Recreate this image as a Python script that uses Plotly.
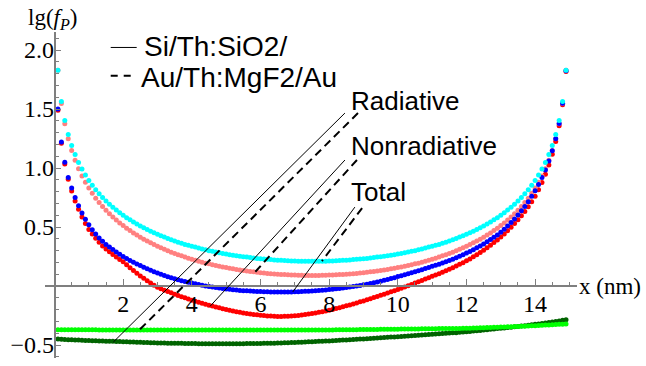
import plotly.graph_objects as go

# positions (nm)
x_nm = [round(0.1 * i, 1) for i in range(1, 150)]

# lg(f_P) series
cyan_vals = [
    1.829, 1.565, 1.403, 1.284, 1.191, 1.114, 1.048, 0.991, 0.940, 0.895,
    0.854, 0.816, 0.782, 0.750, 0.721, 0.694, 0.668, 0.644, 0.621, 0.600,
    0.579, 0.561, 0.543, 0.526, 0.509, 0.494, 0.479, 0.465, 0.451, 0.439,
    0.426, 0.415, 0.403, 0.392, 0.382, 0.372, 0.363, 0.353, 0.345, 0.337,
    0.330, 0.322, 0.314, 0.307, 0.300, 0.294, 0.288, 0.282, 0.276, 0.271,
    0.266, 0.261, 0.257, 0.253, 0.248, 0.245, 0.241, 0.238, 0.234, 0.231,
    0.229, 0.226, 0.224, 0.221, 0.219, 0.218, 0.216, 0.215, 0.213, 0.212,
    0.211, 0.211, 0.210, 0.210, 0.210, 0.210, 0.210, 0.211, 0.211, 0.212,
    0.213, 0.215, 0.216, 0.218, 0.219, 0.221, 0.224, 0.226, 0.229, 0.231,
    0.234, 0.238, 0.241, 0.245, 0.248, 0.253, 0.257, 0.261, 0.266, 0.271,
    0.276, 0.282, 0.288, 0.294, 0.300, 0.307, 0.314, 0.322, 0.330, 0.337,
    0.345, 0.353, 0.363, 0.372, 0.382, 0.392, 0.403, 0.415, 0.426, 0.439,
    0.451, 0.465, 0.479, 0.494, 0.509, 0.526, 0.543, 0.561, 0.579, 0.600,
    0.621, 0.644, 0.668, 0.694, 0.721, 0.750, 0.782, 0.816, 0.854, 0.895,
    0.940, 0.991, 1.048, 1.114, 1.191, 1.284, 1.403, 1.565, 1.829,
]

pink_vals = [
    1.829, 1.548, 1.375, 1.248, 1.148, 1.065, 0.995, 0.933, 0.879, 0.830,
    0.786, 0.745, 0.708, 0.673, 0.643, 0.613, 0.585, 0.559, 0.534, 0.512,
    0.490, 0.470, 0.450, 0.432, 0.413, 0.397, 0.381, 0.366, 0.351, 0.338,
    0.324, 0.311, 0.299, 0.287, 0.276, 0.266, 0.256, 0.245, 0.236, 0.228,
    0.219, 0.210, 0.202, 0.194, 0.188, 0.181, 0.174, 0.168, 0.162, 0.156,
    0.151, 0.146, 0.141, 0.136, 0.132, 0.127, 0.124, 0.120, 0.116, 0.113,
    0.110, 0.107, 0.105, 0.102, 0.100, 0.098, 0.097, 0.095, 0.094, 0.093,
    0.092, 0.091, 0.090, 0.090, 0.090, 0.090, 0.090, 0.091, 0.092, 0.093,
    0.094, 0.095, 0.097, 0.098, 0.100, 0.102, 0.105, 0.107, 0.110, 0.113,
    0.116, 0.120, 0.124, 0.127, 0.132, 0.136, 0.141, 0.146, 0.151, 0.156,
    0.162, 0.168, 0.174, 0.181, 0.188, 0.194, 0.202, 0.210, 0.219, 0.228,
    0.236, 0.245, 0.256, 0.266, 0.276, 0.287, 0.299, 0.311, 0.324, 0.338,
    0.351, 0.366, 0.381, 0.397, 0.413, 0.432, 0.450, 0.470, 0.490, 0.512,
    0.534, 0.559, 0.585, 0.613, 0.643, 0.673, 0.708, 0.745, 0.786, 0.830,
    0.879, 0.933, 0.995, 1.065, 1.148, 1.248, 1.375, 1.548, 1.829,
]

blue_vals = [
    1.500, 1.220, 1.050, 0.920, 0.830, 0.750, 0.680, 0.620, 0.565, 0.520,
    0.478, 0.441, 0.408, 0.379, 0.353, 0.330, 0.309, 0.289, 0.269, 0.250,
    0.233, 0.217, 0.202, 0.187, 0.173, 0.160, 0.147, 0.134, 0.122, 0.110,
    0.099, 0.089, 0.079, 0.070, 0.061, 0.053, 0.045, 0.038, 0.031, 0.025,
    0.019, 0.013, 0.007, 0.001, -0.004, -0.009, -0.013, -0.017, -0.021, -0.025,
    -0.028, -0.031, -0.034, -0.037, -0.039, -0.041, -0.043, -0.045, -0.046, -0.047,
    -0.048, -0.049, -0.050, -0.050, -0.051, -0.051, -0.051, -0.050, -0.050, -0.049,
    -0.048, -0.047, -0.045, -0.044, -0.042, -0.040, -0.038, -0.035, -0.033, -0.030,
    -0.027, -0.024, -0.020, -0.017, -0.013, -0.009, -0.005, 0.000, 0.005, 0.010,
    0.015, 0.021, 0.027, 0.034, 0.041, 0.048, 0.055, 0.063, 0.071, 0.080,
    0.088, 0.096, 0.104, 0.112, 0.120, 0.129, 0.138, 0.148, 0.158, 0.167,
    0.176, 0.185, 0.196, 0.206, 0.217, 0.228, 0.240, 0.253, 0.265, 0.279,
    0.293, 0.308, 0.324, 0.340, 0.357, 0.375, 0.394, 0.413, 0.433, 0.455,
    0.481, 0.509, 0.538, 0.569, 0.601, 0.637, 0.675, 0.715, 0.760, 0.807,
    0.860, 0.919, 0.984, 1.059, 1.146, 1.249, 1.378, 1.550, 1.824,
]

red_vals = [
    1.490, 1.210, 1.035, 0.905, 0.805, 0.720, 0.650, 0.585, 0.530, 0.480,
    0.440, 0.404, 0.370, 0.340, 0.313, 0.290, 0.268, 0.245, 0.225, 0.206,
    0.180, 0.155, 0.131, 0.108, 0.086, 0.065, 0.045, 0.026, 0.007, -0.011,
    -0.024, -0.036, -0.047, -0.058, -0.069, -0.080, -0.090, -0.100, -0.110, -0.120,
    -0.129, -0.138, -0.146, -0.154, -0.162, -0.170, -0.178, -0.185, -0.192, -0.199,
    -0.205, -0.211, -0.217, -0.223, -0.228, -0.232, -0.237, -0.241, -0.244, -0.247,
    -0.250, -0.253, -0.255, -0.257, -0.258, -0.258, -0.257, -0.256, -0.254, -0.251,
    -0.249, -0.245, -0.242, -0.238, -0.233, -0.228, -0.223, -0.217, -0.211, -0.205,
    -0.198, -0.191, -0.184, -0.176, -0.168, -0.160, -0.152, -0.143, -0.134, -0.126,
    -0.117, -0.107, -0.098, -0.088, -0.079, -0.069, -0.059, -0.049, -0.039, -0.029,
    -0.019, -0.008, 0.003, 0.014, 0.025, 0.036, 0.047, 0.059, 0.071, 0.082,
    0.093, 0.104, 0.117, 0.129, 0.142, 0.155, 0.169, 0.184, 0.198, 0.214,
    0.230, 0.248, 0.266, 0.285, 0.304, 0.325, 0.346, 0.368, 0.390, 0.415,
    0.441, 0.469, 0.498, 0.529, 0.561, 0.595, 0.632, 0.671, 0.714, 0.760,
    0.815, 0.878, 0.948, 1.026, 1.116, 1.224, 1.358, 1.537, 1.819,
]

light_green_vals = [
    -0.371, -0.371, -0.371, -0.371, -0.371, -0.371, -0.371, -0.371, -0.371, -0.371,
    -0.371, -0.371, -0.372, -0.372, -0.372, -0.372, -0.372, -0.372, -0.373, -0.373,
    -0.373, -0.373, -0.373, -0.373, -0.373, -0.373, -0.373, -0.373, -0.373, -0.373,
    -0.373, -0.373, -0.373, -0.373, -0.373, -0.373, -0.373, -0.373, -0.373, -0.373,
    -0.373, -0.373, -0.373, -0.373, -0.373, -0.373, -0.373, -0.373, -0.373, -0.373,
    -0.373, -0.373, -0.373, -0.373, -0.373, -0.372, -0.372, -0.372, -0.372, -0.372,
    -0.372, -0.372, -0.372, -0.372, -0.372, -0.372, -0.372, -0.372, -0.372, -0.372,
    -0.372, -0.372, -0.372, -0.372, -0.372, -0.372, -0.372, -0.372, -0.372, -0.372,
    -0.372, -0.371, -0.371, -0.371, -0.371, -0.370, -0.370, -0.370, -0.369, -0.369,
    -0.369, -0.368, -0.368, -0.368, -0.367, -0.367, -0.367, -0.366, -0.366, -0.366,
    -0.365, -0.365, -0.365, -0.364, -0.364, -0.364, -0.363, -0.363, -0.362, -0.362,
    -0.362, -0.361, -0.361, -0.360, -0.360, -0.360, -0.359, -0.359, -0.358, -0.358,
    -0.357, -0.356, -0.355, -0.354, -0.353, -0.352, -0.351, -0.350, -0.349, -0.348,
    -0.347, -0.346, -0.345, -0.344, -0.342, -0.341, -0.340, -0.338, -0.337, -0.336,
    -0.334, -0.333, -0.331, -0.330, -0.328, -0.327, -0.325, -0.324, -0.322,
]

dark_green_vals = [
    -0.450, -0.452, -0.453, -0.455, -0.456, -0.457, -0.458, -0.459, -0.461, -0.462,
    -0.463, -0.464, -0.465, -0.466, -0.467, -0.468, -0.469, -0.470, -0.471, -0.472,
    -0.473, -0.474, -0.475, -0.476, -0.477, -0.478, -0.479, -0.480, -0.481, -0.482,
    -0.482, -0.483, -0.484, -0.484, -0.485, -0.486, -0.486, -0.487, -0.487, -0.488,
    -0.488, -0.489, -0.489, -0.489, -0.490, -0.490, -0.490, -0.490, -0.490, -0.490,
    -0.490, -0.490, -0.489, -0.489, -0.489, -0.488, -0.488, -0.488, -0.487, -0.487,
    -0.486, -0.485, -0.485, -0.484, -0.483, -0.482, -0.481, -0.480, -0.479, -0.478,
    -0.477, -0.476, -0.474, -0.473, -0.472, -0.470, -0.469, -0.468, -0.466, -0.465,
    -0.463, -0.462, -0.460, -0.458, -0.457, -0.455, -0.453, -0.452, -0.450, -0.448,
    -0.446, -0.444, -0.443, -0.441, -0.439, -0.437, -0.435, -0.433, -0.431, -0.429,
    -0.427, -0.425, -0.423, -0.421, -0.419, -0.417, -0.415, -0.413, -0.411, -0.409,
    -0.407, -0.405, -0.403, -0.401, -0.399, -0.397, -0.395, -0.392, -0.390, -0.388,
    -0.385, -0.382, -0.379, -0.376, -0.373, -0.370, -0.367, -0.364, -0.361, -0.358,
    -0.355, -0.352, -0.349, -0.346, -0.342, -0.339, -0.336, -0.332, -0.329, -0.325,
    -0.321, -0.317, -0.313, -0.309, -0.305, -0.300, -0.296, -0.291, -0.286,
]

x_tick_vals = [2, 4, 6, 8, 10, 12, 14]
x_tick_text = ["2", "4", "6", "8", "10", "12", "14"]
y_tick_vals = [-0.5, 0.5, 1.0, 1.5, 2.0]
y_tick_text = ["\u22120.5", "0.5", "1.0", "1.5", "2.0"]

legend_labels = ["Si/Th:SiO2/", "Au/Th:MgF2/Au"]
curve_labels = ["Radiative", "Nonradiative", "Total"]

series = [
    (dark_green_vals, "#006400"),
    (light_green_vals, "#00ff00"),
    (red_vals, "#ff0000"),
    (pink_vals, "#ff8080"),
    (blue_vals, "#0000ff"),
    (cyan_vals, "#00ffff"),
]

X_RANGE = [-0.277, 15.22]
Y_RANGE = [-0.61, 2.153]

fig = go.Figure()
for vals, col in series:
    fig.add_trace(go.Scatter(
        x=x_nm, y=vals, mode="markers",
        marker=dict(size=5, color=col, line=dict(width=0)),
        showlegend=False, hoverinfo="skip", cliponaxis=False,
    ))

DASH = "8px,5px"
# leader lines (data coordinates): (x0, y0, x1, y1, dash, width)
leaders = [
    (8.46, 1.466, 1.713, -0.475, "solid", 1),
    (8.84, 1.466, 2.47, -0.373, DASH, 2),
    (8.46, 1.068, 4.53, -0.172, "solid", 1),
    (8.81, 1.068, 5.84, 0.118, DASH, 2),
    (8.75, 0.669, 6.94, -0.050, "solid", 1),
    (8.96, 0.661, 7.79, 0.211, DASH, 2),
    (1.637, 2.022, 2.394, 2.022, "solid", 1),
    (1.637, 1.782, 2.27, 1.782, "7px,6px", 2),
]
for x0, y0, x1, y1, dash, w in leaders:
    fig.add_shape(type="line", xref="x", yref="y", x0=x0, y0=y0, x1=x1, y1=y1,
                  line=dict(color="black", width=w, dash=dash))

SERIF = "Liberation Serif, serif"
sans_label = dict(family="Liberation Sans", size=26, color="black")
sans_legend = dict(family="Liberation Sans", size=28, color="black")
serif_tick = dict(family=SERIF, size=24, color="black")
serif = dict(family=SERIF, size=23, color="black")

text_items = [
    (legend_labels[0], 2.54, 2.034, sans_legend),
    (legend_labels[1], 2.47, 1.771, sans_legend),
    (curve_labels[0], 8.58, 1.568, sans_label),
    (curve_labels[1], 8.58, 1.186, sans_label),
    (curve_labels[2], 8.58, 0.801, sans_label),
]
for txt, xx, yy, fnt in text_items:
    fig.add_annotation(x=xx, y=yy, xref="x", yref="y", text=txt, showarrow=False,
                       xanchor="left", yanchor="middle", font=fnt)

zero_y_paper = (0 - Y_RANGE[0]) / (Y_RANGE[1] - Y_RANGE[0])
zero_x_paper = (0 - X_RANGE[0]) / (X_RANGE[1] - X_RANGE[0])

fig.add_annotation(x=1.0, y=zero_y_paper, xref="paper", yref="paper", text="x (nm)",
                   showarrow=False, xanchor="left", yanchor="middle", font=serif)
fig.add_annotation(x=-0.035, y=1.04, xref="paper", yref="paper",
                   text="lg(<i>f</i><sub><i>P</i></sub>)",
                   showarrow=False, xanchor="left", yanchor="middle", font=serif)

axis_col = "#7f7f7f"
fig.update_layout(
    width=646, height=366,
    margin=dict(l=45, r=69, t=32, b=8),
    paper_bgcolor="white", plot_bgcolor="white",
    font=dict(family=SERIF, size=24, color="black"),
    xaxis=dict(range=X_RANGE, anchor="free", position=zero_y_paper, side="bottom",
               showline=True, linecolor=axis_col, linewidth=1.5,
               showgrid=False, zeroline=False,
               tickmode="array", tickvals=x_tick_vals, ticktext=x_tick_text,
               ticks="inside", ticklen=6, tickwidth=1, tickcolor=axis_col,
               tickfont=serif_tick, ticklabelstandoff=-4,
               minor=dict(dtick=0.5, tick0=0, ticks="inside", ticklen=3.5,
                          tickwidth=1, tickcolor=axis_col, showgrid=False)),
    yaxis=dict(range=Y_RANGE, anchor="free", position=zero_x_paper, side="left",
               showline=True, linecolor=axis_col, linewidth=1.5,
               showgrid=False, zeroline=False,
               tickmode="array", tickvals=y_tick_vals, ticktext=y_tick_text,
               ticks="inside", ticklen=6, tickwidth=1, tickcolor=axis_col,
               tickfont=serif_tick, ticklabelstandoff=-5,
               minor=dict(dtick=0.1, tick0=0, ticks="inside", ticklen=3.5,
                          tickwidth=1, tickcolor=axis_col, showgrid=False)),
)

fig.write_html("out.html", config={"displayModeBar": False},
               post_script="document.body.style.margin='0';")
